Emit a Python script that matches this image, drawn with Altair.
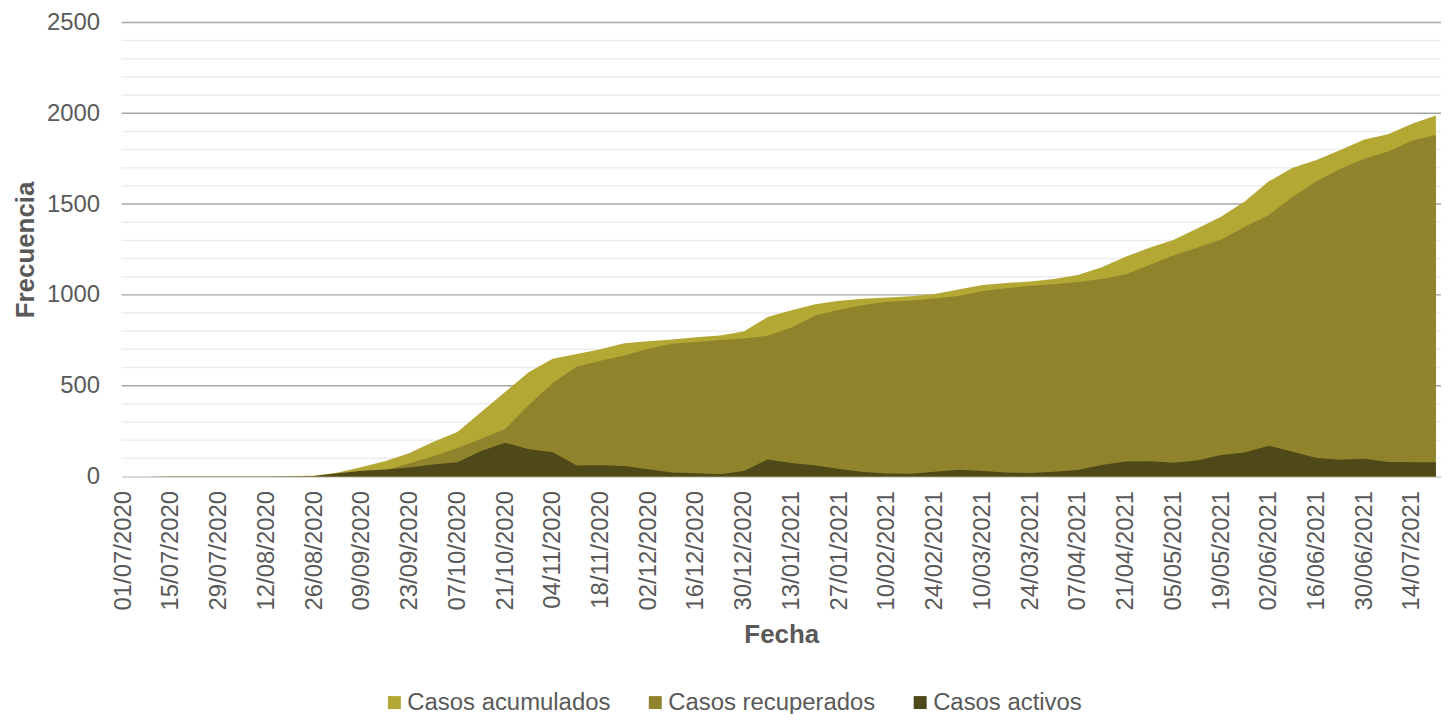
import altair as alt
import pandas as pd

# Weekly readings (days since 01/07/2020, step 7)
acumulados = [0, 0, 1, 1, 1, 2, 2, 3, 4, 22, 53, 85, 130, 192, 245, 355, 465, 575, 648,
              675, 700, 734, 745, 755, 767, 776, 798, 878, 916, 948, 968, 979, 985, 993,
              1005, 1030, 1055, 1065, 1074, 1088, 1110, 1152, 1210, 1260, 1302, 1365,
              1430, 1515, 1625, 1700, 1743, 1797, 1855, 1884, 1942, 1988]
recuperados = [0, 0, 0, 0, 0, 0, 0, 1, 1, 4, 15, 35, 73, 112, 157, 208, 262, 395, 515,
               605, 637, 666, 703, 731, 740, 752, 760, 775, 820, 886, 918, 944, 962, 969,
               980, 994, 1022, 1037, 1050, 1058, 1071, 1088, 1112, 1165, 1217, 1260,
               1305, 1375, 1440, 1540, 1625, 1695, 1750, 1789, 1848, 1880]
activos = [0, 0, 1, 1, 1, 2, 2, 2, 3, 18, 32, 38, 50, 66, 78, 140, 186, 150, 133,
           60, 62, 58, 40, 22, 18, 12, 30, 93, 75, 60, 42, 25, 16, 15,
           26, 37, 30, 22, 20, 26, 36, 63, 82, 84, 76, 88,
           118, 132, 170, 137, 102, 92, 98, 80, 78, 79]

series = ["Casos acumulados", "Casos recuperados", "Casos activos"]
colores = ["#B4A834", "#8F832B", "#4F4818"]
ticks_y = [0, 500, 1000, 1500, 2000, 2500]
grid_mayor = [500, 1000, 1500, 2000, 2500]
grid_menor = [100, 200, 300, 400, 600, 700, 800, 900, 1100, 1200, 1300, 1400,
              1600, 1700, 1800, 1900, 2100, 2200, 2300, 2400]

fechas = pd.date_range("2020-07-01", periods=len(acumulados), freq="7D")
tick_fechas = pd.date_range("2020-07-01", "2021-07-20", freq="14D")

rows = []
for nombre, vals in zip(series, [acumulados, recuperados, activos]):
    for f, v in zip(fechas, vals):
        rows.append({"fecha": f, "valor": v, "serie": nombre})
df = pd.DataFrame(rows)

TXT = "#595959"
FONT = "Liberation Sans"

x_enc = alt.X(
    "fecha:T",
    title="Fecha",
    scale=alt.Scale(domain=[alt.DateTime(year=2020, month=6, date=30, hours=12),
                            alt.DateTime(year=2021, month=7, date=22, hours=12)]),
    axis=alt.Axis(
        values=[alt.DateTime(year=t.year, month=t.month, date=t.day) for t in tick_fechas],
        format="%d/%m/%Y", labelAngle=270, labelOverlap=False, labelFlush=False,
        labelBound=False, ticks=False, grid=False, labelPadding=14,
        labelFontSize=24, labelColor=TXT, labelFont=FONT,
        titleFontSize=26, titleColor=TXT, titleFont=FONT, titleFontWeight="bold",
        titlePadding=12, domainColor="#D9D9D9", domainWidth=2,
    ),
)
y_axis = alt.Axis(
    values=ticks_y, format="d", grid=False, domain=False, ticks=False, labelPadding=22,
    labelFontSize=24, labelColor=TXT, labelFont=FONT,
    titleFontSize=26, titleColor=TXT, titleFont=FONT, titleFontWeight="bold",
    titlePadding=8,
)
y_scale = alt.Scale(domain=[0, 2500], nice=False)

def y_enc():
    return alt.Y("valor:Q", title="Frecuencia", scale=y_scale, axis=y_axis)

menor = alt.Chart(pd.DataFrame({"valor": grid_menor})).mark_rule(
    color="#EDEDED", strokeWidth=1.5).encode(y=y_enc())
mayor = alt.Chart(pd.DataFrame({"valor": grid_mayor})).mark_rule(
    color="#A6A6A6", strokeWidth=1.5).encode(y=y_enc())

color_enc = alt.Color(
    "serie:N", title=None,
    scale=alt.Scale(domain=series, range=colores),
    legend=alt.Legend(
        orient="none", legendX=262, legendY=671, direction="horizontal",
        symbolType="square", symbolSize=169, symbolStrokeWidth=0, symbolOpacity=1,
        labelFontSize=24, labelColor=TXT, labelFont=FONT, labelOffset=1,
        labelLimit=0, columnPadding=32, padding=0,
    ),
)

areas = []
for nombre in series:
    areas.append(
        alt.Chart(df).transform_filter(alt.datum.serie == nombre)
        .mark_area(opacity=1, interpolate="linear")
        .encode(x=x_enc, y=y_enc(), color=color_enc)
    )

chart = alt.layer(menor, mayor, *areas).properties(
    width=1325, height=456,
    autosize=alt.AutoSizeParams(type="none"),
    padding={"left": 114, "top": 13, "right": 0, "bottom": 237},
).configure_view(stroke=None)

chart.save("out.html", embed_options={"renderer": "svg", "actions": False})
